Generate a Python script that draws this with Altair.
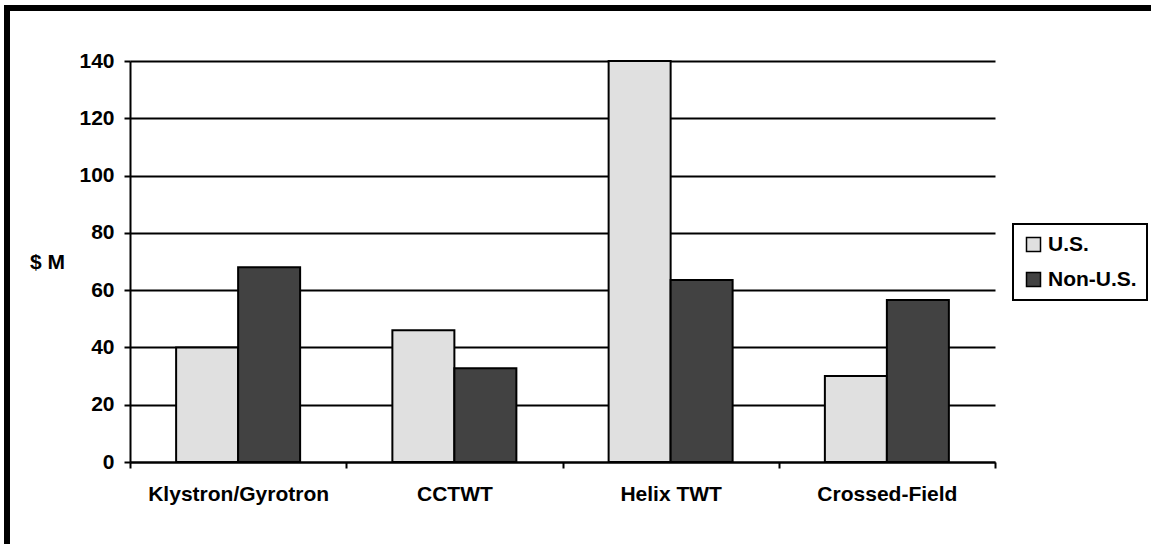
import altair as alt
import pandas as pd

# Tube categories and revenue ($ M) per region
categories = ["Klystron/Gyrotron", "CCTWT", "Helix TWT", "Crossed-Field"]
series_names = ["U.S.", "Non-U.S."]
us_values = [40, 46, 140, 30]
non_us_values = [68, 32.7, 63.5, 56.6]
y_ticks = [0, 20, 40, 60, 80, 100, 120, 140]
colors = ["#e0e0e0", "#424242"]

rows = []
for cat, us, non in zip(categories, us_values, non_us_values):
    rows.append({"category": cat, "series": series_names[0], "value": us})
    rows.append({"category": cat, "series": series_names[1], "value": non})
df = pd.DataFrame(rows)

FONT = "Liberation Sans"
FS = 21
W, H = 865, 401

bars = alt.Chart(df).mark_bar(stroke="black", strokeWidth=2).encode(
    x=alt.X(
        "category:N",
        sort=categories,
        scale=alt.Scale(paddingInner=0, paddingOuter=0),
        axis=alt.Axis(
            title=None,
            labelAngle=0,
            labelFont=FONT,
            labelFontSize=FS,
            labelFontWeight="bold",
            labelColor="black",
            labelLimit=400,
            labelPadding=15,
            tickBand="extent",
            tickSize=6,
            tickColor="black",
            tickWidth=2,
            domainColor="black",
            domainWidth=2,
            grid=False,
        ),
    ),
    xOffset=alt.XOffset(
        "series:N",
        sort=series_names,
        scale=alt.Scale(paddingInner=0, paddingOuter=0.744),
    ),
    y=alt.Y(
        "value:Q",
        scale=alt.Scale(domain=[0, 140], nice=False),
        axis=alt.Axis(
            values=y_ticks,
            title="$ M",
            titleAngle=0,
            titleX=-83,
            titleY=201,
            titleAlign="center",
            titleBaseline="middle",
            titleFont=FONT,
            titleFontSize=FS,
            titleFontWeight="bold",
            titleColor="black",
            labelFont=FONT,
            labelFontSize=FS,
            labelFontWeight="bold",
            labelColor="black",
            labelPadding=10,
            tickSize=6,
            tickColor="black",
            tickWidth=2,
            domainColor="black",
            domainWidth=2,
            grid=True,
            gridColor="black",
            gridWidth=2,
            gridOpacity=1,
        ),
    ),
    color=alt.Color(
        "series:N",
        sort=series_names,
        scale=alt.Scale(domain=series_names, range=colors),
        legend=alt.Legend(
            title=None,
            orient="none",
            legendX=883,
            legendY=163,
            symbolType="square",
            symbolSize=196,
            symbolStrokeColor="black",
            symbolStrokeWidth=1.5,
            symbolOpacity=1,
            labelFont=FONT,
            labelFontSize=FS,
            labelFontWeight="bold",
            labelColor="black",
            labelLimit=300,
            labelOffset=4,
            rowPadding=13,
            padding=10,
            strokeColor="black",
            fillColor="white",
        ),
    ),
)

# Frame around the figure (top and left edges)
frame_df = pd.DataFrame({"k": [0]})
frame_top = alt.Chart(frame_df).mark_rule(color="black", strokeWidth=6).encode(
    x=alt.value(-126), x2=alt.value(1030), y=alt.value(-53)
)
frame_left = alt.Chart(frame_df).mark_rule(color="black", strokeWidth=6).encode(
    x=alt.value(-123), y=alt.value(-56), y2=alt.value(490)
)

chart = (
    alt.layer(bars, frame_top, frame_left)
    .properties(
        width=W,
        height=H,
        autosize=alt.AutoSizeParams(type="none"),
        padding={"left": 130, "top": 61, "right": 156, "bottom": 82},
        background="white",
    )
    .configure_view(stroke=None)
    .configure_legend(strokeWidth=2)
)

chart.save("out.html", embed_options={"renderer": "svg", "actions": False})
